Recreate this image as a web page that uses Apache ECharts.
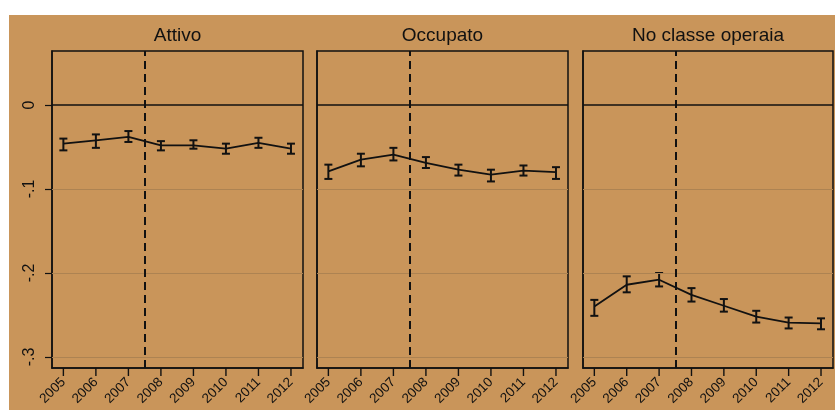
<!DOCTYPE html>
<html>
<head>
<meta charset="utf-8">
<script src="https://cdn.jsdelivr.net/npm/echarts@6/dist/echarts.min.js"></script>
<style>
  html, body { margin: 0; padding: 0; background: #ffffff; }
  #c { position: absolute; left: 9px; top: 15px; width: 826px; height: 395px; background: #C9955A; }
</style>
</head>
<body>
<div id="c"></div>
<script>
// ---- data ----
const years = [2005, 2006, 2007, 2008, 2009, 2010, 2011, 2012];
const panelTitles = ['Attivo', 'Occupato', 'No classe operaia'];

const attivoMean  = [-0.046, -0.042, -0.038, -0.048, -0.048, -0.052, -0.045, -0.052];
const attivoLow   = [-0.054, -0.051, -0.044, -0.054, -0.052, -0.058, -0.051, -0.058];
const attivoHigh  = [-0.040, -0.035, -0.031, -0.043, -0.042, -0.046, -0.039, -0.046];

const occupatoMean = [-0.079, -0.065, -0.059, -0.069, -0.077, -0.083, -0.078, -0.080];
const occupatoLow  = [-0.088, -0.073, -0.066, -0.075, -0.084, -0.091, -0.084, -0.088];
const occupatoHigh = [-0.071, -0.058, -0.051, -0.062, -0.071, -0.077, -0.072, -0.074];

const noClasseMean = [-0.240, -0.214, -0.208, -0.226, -0.239, -0.252, -0.259, -0.260];
const noClasseLow  = [-0.251, -0.223, -0.216, -0.234, -0.246, -0.259, -0.266, -0.267];
const noClasseHigh = [-0.232, -0.204, -0.200, -0.218, -0.231, -0.245, -0.253, -0.254];

const yTickValues = [0, -0.1, -0.2, -0.3];
const yTickLabels = ['0', '-.1', '-.2', '-.3'];
const breakYear = 2007.5;

// ---- chart ----
const means = [attivoMean, occupatoMean, noClasseMean];
const lows = [attivoLow, occupatoLow, noClasseLow];
const highs = [attivoHigh, occupatoHigh, noClasseHigh];

const gridLefts = [43, 308, 574];
const gridWidths = [251, 251, 250];
const gridTop = 36, gridHeight = 317;
const xMin = 2004.65, xMax = 2012.37;
const yMin = -0.3131, yMax = 0.0643;
const ink = '#111111';
const fontFam = '"Liberation Sans", Arial, sans-serif';

const grids = [], xAxes = [], yAxes = [], series = [], graphics = [];

for (let p = 0; p < 3; p++) {
  grids.push({
    left: gridLefts[p], top: gridTop, width: gridWidths[p], height: gridHeight,
    show: true, borderColor: ink, borderWidth: 1.5, backgroundColor: 'transparent'
  });
  xAxes.push({
    type: 'value', gridIndex: p, min: xMin, max: xMax,
    axisLine: { show: true, onZero: false, lineStyle: { color: ink, width: 1.5 } },
    axisTick: { show: false },
    axisLabel: {
      show: true, customValues: years, rotate: 45, fontSize: 13.5, color: ink,
      fontFamily: fontFam, margin: 12, formatter: v => String(Math.round(v))
    },
    splitLine: { show: false }
  });
  yAxes.push({
    type: 'value', gridIndex: p, min: yMin, max: yMax,
    axisLine: { show: true, onZero: false, lineStyle: { color: ink, width: 1.5 } },
    axisTick: { show: p === 0, customValues: yTickValues, length: 7, lineStyle: { color: ink, width: 1.2 } },
    axisLabel: {
      show: p === 0, customValues: yTickValues, rotate: 90, fontSize: 16, color: ink,
      fontFamily: fontFam, margin: 14,
      formatter: v => {
        const i = yTickValues.findIndex(t => Math.abs(t - v) < 1e-6);
        return i >= 0 ? yTickLabels[i] : '';
      }
    },
    splitLine: { show: false }
  });

  const markData = [];
  yTickValues.forEach(v => {
    if (v === 0) {
      markData.push({ yAxis: v, lineStyle: { color: ink, width: 1.6, type: 'solid' } });
    } else {
      markData.push({ yAxis: v, lineStyle: { color: '#AD8352', width: 1, type: 'solid' } });
    }
  });
  markData.push({ xAxis: breakYear, lineStyle: { color: ink, width: 2, type: [8, 5] } });

  series.push({
    type: 'line', xAxisIndex: p, yAxisIndex: p,
    data: years.map((y, i) => [y, means[p][i]]),
    symbol: 'none', lineStyle: { color: ink, width: 1.8 },
    z: 3, silent: true,
    markLine: { silent: true, symbol: 'none', label: { show: false }, animation: false, data: markData }
  });

  series.push({
    type: 'custom', xAxisIndex: p, yAxisIndex: p,
    data: years.map((y, i) => [y, lows[p][i], highs[p][i]]),
    z: 4, silent: true,
    renderItem: (params, api) => {
      const lo = api.coord([api.value(0), api.value(1)]);
      const hi = api.coord([api.value(0), api.value(2)]);
      const w = 4;
      const st = { stroke: ink, lineWidth: 2 };
      return {
        type: 'group',
        children: [
          { type: 'line', shape: { x1: lo[0], y1: lo[1], x2: hi[0], y2: hi[1] }, style: st },
          { type: 'line', shape: { x1: lo[0] - w, y1: lo[1], x2: lo[0] + w, y2: lo[1] }, style: st },
          { type: 'line', shape: { x1: hi[0] - w, y1: hi[1], x2: hi[0] + w, y2: hi[1] }, style: st }
        ]
      };
    }
  });

  graphics.push({
    type: 'text', x: gridLefts[p] + gridWidths[p] / 2, y: 21,
    style: {
      text: panelTitles[p], fill: ink, fontSize: 19, fontFamily: fontFam,
      textAlign: 'center', textVerticalAlign: 'middle'
    }
  });
}

const chart = echarts.init(document.getElementById('c'), null, { renderer: 'canvas' });
chart.setOption({
  animation: false,
  backgroundColor: '#C9955A',
  grid: grids, xAxis: xAxes, yAxis: yAxes, series: series, graphic: graphics
});

// x-axis ticks below each panel, positioned through the chart's own scales
const tickGraphics = [];
for (let p = 0; p < 3; p++) {
  years.forEach(y => {
    const pt = chart.convertToPixel({ gridIndex: p }, [y, yMin]);
    tickGraphics.push({
      type: 'line', z: 100,
      shape: { x1: pt[0], y1: pt[1], x2: pt[0], y2: pt[1] + 8 },
      style: { stroke: ink, lineWidth: 1.4 }
    });
  });
}
chart.setOption({ graphic: graphics.concat(tickGraphics) });
</script>
</body>
</html>
